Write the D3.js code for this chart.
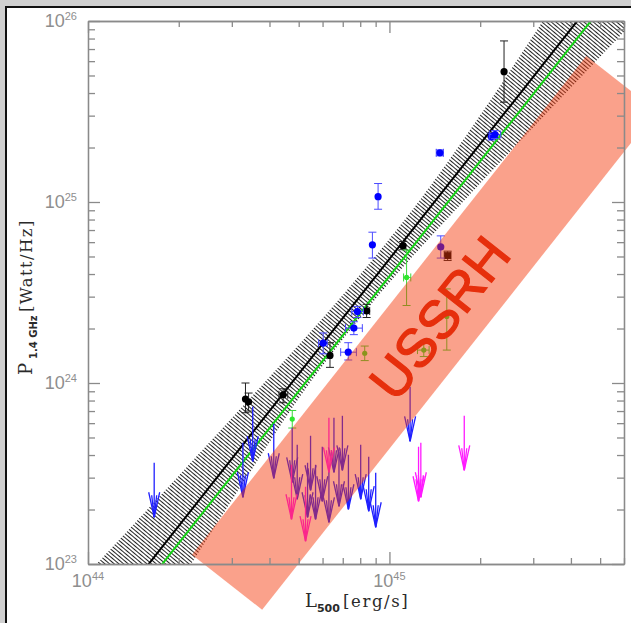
<!DOCTYPE html>
<html>
<head>
<meta charset="utf-8">
<script src="https://cdn.jsdelivr.net/npm/d3@7"></script>
<style>
  html, body { margin: 0; padding: 0; background: #d3d3d3; }
  svg { display: block; }
</style>
</head>
<body>
<div class="main"></div>
<script>
const w = 631;
const h = 623;

// L500 in 1e44 erg/s, P1.4GHz in 1e24 W/Hz
// detections: [L, P, Llo, Lhi, Plo, Phi]
const blackPts = [
  [24.0, 52.5, null, null, 35.6, 77.6],
  [11.1, 5.74, null, null, 5.45, 6.05],
  [8.4, 2.5, 8.2, 8.6, 2.3, 2.72],
  [6.35, 1.42, null, null, 1.22, 1.67],
  [3.33, 0.815, null, null, 0.685, 1.0],
  [3.41, 0.787, null, null, 0.7, 0.88],
  [4.44, 0.861, 4.3, 4.6, 0.778, 0.929]
];
const blackSquares = [[15.6, 5.06, 15.2, 16.0, 4.75, 5.35]];
const bluePts = [
  [9.17, 10.7, null, null, 9.12, 12.65],
  [8.78, 5.8, null, null, 4.9, 6.81],
  [14.7, 18.7, 14.3, 15.1, 18.0, 19.4],
  [21.8, 23.0, null, null, 22.0, 24.0],
  [22.4, 23.6, 21.5, 23.4, 22.4, 24.8],
  [7.83, 2.48, 7.5, 8.2, 2.3, 2.65],
  [7.62, 2.01, 7.15, 8.13, 1.85, 2.18],
  [7.3, 1.48, 6.89, 7.77, 1.34, 1.67],
  [6.03, 1.66, 5.82, 6.22, 1.45, 1.89],
  [14.8, 5.65, null, null, 4.9, 6.5]
];
const greenPts = [
  [11.4, 3.83, 11.14, 11.77, 2.68, 5.43],
  [8.28, 1.46, null, null, 1.33, 1.6],
  [13.0, 1.52, 12.39, 13.54, 1.4, 1.67],
  [15.5, 2.33, null, null, 1.52, 3.31],
  [4.76, 0.632, null, null, 0.564, 0.705]
];
// upper limits: [L, Pmax]
const blueLimits = [
  [1.658, 0.3625], [3.265, 0.4675], [3.519, 0.739], [4.133, 0.5953],
  [4.758, 0.5657], [4.944, 0.4559], [5.35, 0.3625], [5.474, 0.511],
  [5.687, 0.3534], [5.987, 0.4444], [6.298, 0.3401], [6.545, 0.6423],
  [6.801, 0.417], [6.981, 0.6589], [7.31, 0.4014], [8.028, 0.4559],
  [8.535, 0.3914], [9.004, 0.3192], [11.71, 0.9528]
];
const magentaLimits = [
  [4.732, 0.3534], [5.268, 0.2672], [6.298, 0.6423],
  [12.49, 0.4444], [12.71, 0.4675], [17.71, 0.6589]
];

// fits: P(1e24) at L = 5e44, slope
const fitBlack = [1.122, 2.11];
const fitGreen = [0.901, 2.11];

// confidence band edges: L at P = 0.1, 0.316, 1, 3.16, 10, 31.6, 100
const bandP = [0.1, 0.3162, 1, 3.162, 10, 31.62, 100];
const bandLeft = [1.069, 2.032, 3.837, 7.117, 12.48, 20.39, 32.29];
const bandRight = [2.2, 3.425, 5.44, 9.363, 17.52, 33.61, 64.84];

// USSRH region corners [L, P]
const ussrhBox = [[2.213, 0.1126], [44.97, 64.1], [76.83, 31.85], [3.782, 0.0559]];
const ussrhLabel = [14.6, 2.3];

const xMajor = [1e44, 1e45];
const xMinor = [2, 3, 4, 5, 6, 7, 8, 9, 20, 30, 40, 50, 60].map(d => d * 1e44);
const yMajor = [1e23, 1e24, 1e25, 1e26];
const yMinor = [1e23, 1e24, 1e25].flatMap(b => [2, 3, 4, 5, 6, 7, 8, 9].map(k => k * b));

const x = d3.scaleLog().domain([1e44, 6e45]).range([88, 624]);
const y = d3.scaleLog().domain([1e23, 1e26]).range([564, 21]);
const X = L => x(L * 1e44);
const Y = P => y(P * 1e24);

const svg = d3.select('.main').append('svg').attr('width', w).attr('height', h);
const defs = svg.append('defs');

// window frame
svg.append('rect').attr('width', w).attr('height', h).attr('fill', '#d0d0d0');
svg.append('rect').attr('x', 5).attr('y', 6).attr('width', w).attr('height', h).attr('fill', '#111');
svg.append('rect').attr('x', 7).attr('y', 8).attr('width', w).attr('height', h).attr('fill', '#fff');

defs.append('clipPath').attr('id', 'plot')
  .append('rect').attr('x', 88).attr('y', 21).attr('width', 536).attr('height', 543);

const hatch = defs.append('pattern').attr('id', 'hatch')
  .attr('patternUnits', 'userSpaceOnUse').attr('width', 3).attr('height', 3)
  .attr('patternTransform', 'rotate(40)');
hatch.append('rect').attr('width', 3).attr('height', 3).attr('fill', '#fff');
hatch.append('line').attr('x1', 0).attr('x2', 3).attr('y1', 1.5).attr('y2', 1.5)
  .attr('stroke', '#222').attr('stroke-width', 1.0);

const plot = svg.append('g').attr('clip-path', 'url(#plot)');

// band
const edge = d3.line().x(d => X(d[0])).y(d => Y(d[1])).curve(d3.curveCatmullRom);
const leftPts = bandLeft.map((L, i) => [L, bandP[i]]);
const rightPts = bandRight.map((L, i) => [L, bandP[i]]).reverse();
plot.append('path')
  .attr('d', edge(leftPts) + edge(rightPts).replace(/^M/, 'L') + 'Z')
  .attr('fill', 'url(#hatch)');

// fit lines
function fitLine(fit) {
  const Ls = [1, 60];
  return Ls.map(L => [L, fit[0] * Math.pow(L / 5, fit[1])]);
}
const line = d3.line().x(d => X(d[0])).y(d => Y(d[1]));
plot.append('path').attr('d', line(fitLine(fitBlack)))
  .attr('stroke', '#000').attr('stroke-width', 2).attr('fill', 'none');
plot.append('path').attr('d', line(fitLine(fitGreen)))
  .attr('stroke', '#14d414').attr('stroke-width', 2).attr('fill', 'none');

// error bars and points
function drawPoints(data, color, barColor, r, shape) {
  const g = plot.append('g');
  data.forEach(d => {
    const cx = X(d[0]), cy = Y(d[1]);
    if (d[4] != null) {
      g.append('line').attr('x1', cx).attr('x2', cx).attr('y1', Y(d[4])).attr('y2', Y(d[5]))
        .attr('stroke', barColor).attr('stroke-width', 1);
      [d[4], d[5]].forEach(p => g.append('line')
        .attr('x1', cx - 4).attr('x2', cx + 4).attr('y1', Y(p)).attr('y2', Y(p))
        .attr('stroke', barColor).attr('stroke-width', 1));
    }
    if (d[2] != null) {
      g.append('line').attr('x1', X(d[2])).attr('x2', X(d[3])).attr('y1', cy).attr('y2', cy)
        .attr('stroke', barColor).attr('stroke-width', 1);
      [d[2], d[3]].forEach(L => g.append('line')
        .attr('x1', X(L)).attr('x2', X(L)).attr('y1', cy - 4).attr('y2', cy + 4)
        .attr('stroke', barColor).attr('stroke-width', 1));
    }
    if (shape === 'square') {
      g.append('rect').attr('x', cx - r).attr('y', cy - r).attr('width', 2 * r).attr('height', 2 * r)
        .attr('fill', color);
    } else {
      g.append('circle').attr('cx', cx).attr('cy', cy).attr('r', r).attr('fill', color);
    }
  });
}
drawPoints(blackPts, '#000', '#222', 3.6);
drawPoints(blackSquares, '#000', '#222', 3.4, 'square');
drawPoints(bluePts, '#0000ff', '#4a4aff', 3.6);
drawPoints(greenPts, '#2ee62e', '#3ad83a', 2.6);

// upper limit arrows (down to half the limit)
function drawArrows(data, color) {
  const g = plot.append('g').attr('stroke', color).attr('fill', 'none').attr('stroke-width', 1.3);
  data.forEach(d => {
    const ax = X(d[0]), top = Y(d[1]), tip = Y(d[1] / 2);
    g.append('line').attr('x1', ax).attr('x2', ax).attr('y1', top).attr('y2', tip);
    g.append('path').attr('d', `M${ax - 5.5},${tip - 25}L${ax},${tip}L${ax + 5.5},${tip - 25}`);
    g.append('path').attr('d', `M${ax - 2.5},${tip - 22}L${ax},${tip}L${ax + 2.5},${tip - 22}`);
  });
}
drawArrows(blueLimits, '#1f1fff');
drawArrows(magentaLimits, '#ff1aff');

// USSRH region overlay
svg.append('path')
  .attr('d', line(ussrhBox) + 'Z')
  .attr('fill', 'rgb(245,55,8)').attr('fill-opacity', 0.47);

svg.append('text')
  .attr('transform', `translate(${X(ussrhLabel[0])},${Y(ussrhLabel[1])}) rotate(-51.7)`)
  .attr('text-anchor', 'middle').attr('dy', '0.36em')
  .attr('font-family', 'Liberation Sans, Arial, sans-serif').attr('font-size', 54)
  .attr('fill', '#e62f0c').attr('stroke', '#e62f0c').attr('stroke-width', 1.2)
  .text('USSRH');

// axes
const axisColor = '#8a8a8a';
function styleAxis(g) {
  g.selectAll('path, line').attr('stroke', axisColor).attr('stroke-width', 1.3);
  g.selectAll('text').remove();
}
svg.append('g').attr('transform', 'translate(0,564)')
  .call(d3.axisBottom(x).tickValues(xMinor).tickSize(-6).tickSizeOuter(0)).call(styleAxis);
svg.append('g').attr('transform', 'translate(0,564)')
  .call(d3.axisBottom(x).tickValues(xMajor).tickSize(-12).tickSizeOuter(0)).call(styleAxis);
svg.append('g').attr('transform', 'translate(0,21)')
  .call(d3.axisTop(x).tickValues(xMinor).tickSize(-6).tickSizeOuter(0)).call(styleAxis);
svg.append('g').attr('transform', 'translate(0,21)')
  .call(d3.axisTop(x).tickValues(xMajor).tickSize(-12).tickSizeOuter(0)).call(styleAxis);
svg.append('g').attr('transform', 'translate(88,0)')
  .call(d3.axisLeft(y).tickValues(yMinor).tickSize(-7).tickSizeOuter(0)).call(styleAxis);
svg.append('g').attr('transform', 'translate(88,0)')
  .call(d3.axisLeft(y).tickValues(yMajor).tickSize(-12).tickSizeOuter(0)).call(styleAxis);
svg.append('g').attr('transform', 'translate(624,0)')
  .call(d3.axisRight(y).tickValues(yMinor).tickSize(-7).tickSizeOuter(0)).call(styleAxis);
svg.append('g').attr('transform', 'translate(624,0)')
  .call(d3.axisRight(y).tickValues(yMajor).tickSize(-12).tickSizeOuter(0)).call(styleAxis);

// tick labels with superscripts
const labelFont = 'Liberation Sans, Arial, sans-serif';
yMajor.forEach(v => {
  const t = svg.append('text').attr('x', 77).attr('y', y(v) + 6)
    .attr('text-anchor', 'end').attr('font-family', labelFont).attr('fill', '#8e8e8e');
  t.append('tspan').attr('font-size', 18).text('10');
  t.append('tspan').attr('font-size', 11).attr('dy', -7).text(Math.round(Math.log10(v)));
});
xMajor.forEach(v => {
  const t = svg.append('text').attr('x', x(v)).attr('y', 587)
    .attr('text-anchor', 'middle').attr('font-family', labelFont).attr('fill', '#8e8e8e');
  t.append('tspan').attr('font-size', 18).text('10');
  t.append('tspan').attr('font-size', 11).attr('dy', -7).text(Math.round(Math.log10(v)));
});

// axis titles
const titleFont = 'DejaVu Serif, Liberation Serif, serif';
const subFont = 'DejaVu Sans, sans-serif';
const xt = svg.append('text').attr('x', 305).attr('y', 607).attr('fill', '#2a2a2a');
xt.append('tspan').attr('font-family', titleFont).attr('font-size', 18).text('L');
xt.append('tspan').attr('font-family', subFont).attr('font-weight', 'bold').attr('font-size', 11)
  .attr('dy', 5).text('500');
xt.append('tspan').attr('x', 343).attr('dy', -5).attr('font-family', titleFont)
  .attr('font-size', 16.5).attr('letter-spacing', 1.6).text('[erg/s]');

const yt = svg.append('text').attr('transform', 'translate(32,375) rotate(-90)').attr('fill', '#2a2a2a');
yt.append('tspan').attr('font-family', titleFont).attr('font-size', 18).text('P');
yt.append('tspan').attr('x', 16).attr('dy', 5).attr('font-family', subFont)
  .attr('font-weight', 'bold').attr('font-size', 10).text('1.4 GHz');
yt.append('tspan').attr('x', 63).attr('dy', -5).attr('font-family', titleFont)
  .attr('font-size', 16.5).attr('letter-spacing', 1.4).text('[Watt/Hz]');
</script>
</body>
</html>
